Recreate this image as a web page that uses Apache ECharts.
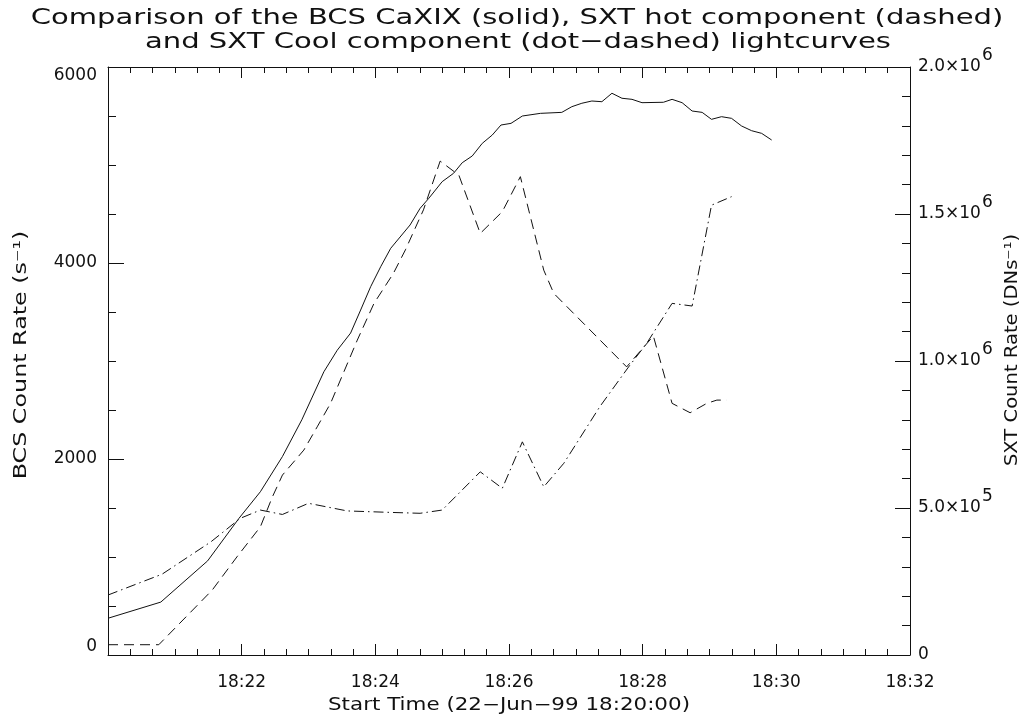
<!DOCTYPE html>
<html>
<head>
<meta charset="utf-8">
<script src="https://cdn.jsdelivr.net/npm/echarts@6/dist/echarts.min.js"></script>
<style>
  html, body { margin: 0; padding: 0; background: #fff; }
  #chart { width: 1029px; height: 719px; }
</style>
</head>
<body>
<div id="chart"></div>
<script>
// Time in minutes after 18:20:00 on 22-Jun-99
const bcsTime = [0.00, 0.79, 1.49, 1.96, 2.28, 2.61, 2.90, 3.23, 3.43, 3.63, 3.78, 3.93, 4.08, 4.23,
  4.52, 4.67, 4.80, 5.00, 5.17, 5.30, 5.45, 5.60, 5.75, 5.88, 6.03, 6.20, 6.47, 6.79, 6.94, 7.09,
  7.24, 7.39, 7.54, 7.69, 7.84, 7.99, 8.31, 8.44, 8.59, 8.74, 8.89, 9.03, 9.18, 9.33, 9.48, 9.63,
  9.78, 9.93];
// BCS Ca XIX count rate (s^-1), left axis
const bcsRate = [375, 540, 960, 1395, 1666, 2025, 2400, 2890, 3110, 3285, 3520, 3758, 3962, 4150,
  4388, 4558, 4660, 4830, 4915, 5023, 5092, 5221, 5306, 5408, 5425, 5500, 5527, 5537, 5595, 5630,
  5653, 5646, 5732, 5681, 5670, 5636, 5640, 5670, 5636, 5551, 5537, 5466, 5493, 5476, 5398, 5350,
  5323, 5255];

// SXT hot component (DN s^-1), right axis
const hotTime = [0.00, 0.76, 1.56, 1.93, 2.28, 2.46, 2.61, 2.93, 3.13, 3.33, 3.73, 3.98, 4.27, 4.45,
  4.72, 4.97, 5.25, 5.57, 5.90, 6.17, 6.52, 6.67, 7.76, 8.16, 8.44, 8.71, 8.96, 9.11, 9.26];
const hotRate = [35000, 35000, 221000, 334000, 436000, 538000, 612000, 697000, 776000, 856000,
  1071000, 1196000, 1298000, 1378000, 1514000, 1680000, 1632000, 1434000, 1508000, 1627000,
  1309000, 1230000, 980000, 1085000, 856000, 824000, 856000, 867000, 867000];

// SXT cool component (DN s^-1), right axis
const coolTime = [0.00, 0.81, 1.54, 1.98, 2.28, 2.61, 3.00, 3.58, 4.23, 4.67, 5.00, 5.57, 5.90, 6.20,
  6.52, 6.82, 7.36, 7.79, 8.06, 8.44, 8.74, 9.03, 9.33];
const coolRate = [204000, 275000, 385000, 465000, 493000, 478000, 516000, 490000, 485000, 482000,
  493000, 623000, 567000, 725000, 572000, 652000, 845000, 980000, 1060000, 1196000, 1187000,
  1530000, 1559000];

// Axis tick labels
const timeTickLabels = ['', '18:22', '18:24', '18:26', '18:28', '18:30', '18:32'];
const bcsTickLabels = ['0', '2000', '4000', '6000'];
const sxtTickLabels = [['0', ''], ['5.0×10', '5'], ['1.0×10', '6'], ['1.5×10', '6'], ['2.0×10', '6']];

// Titles
const titleLines = [
  'Comparison of the BCS CaXIX (solid), SXT hot component (dashed)',
  'and SXT Cool component (dot\u2212dashed) lightcurves'
];
const xName = 'Start Time (22\u2212Jun\u221299 18:20:00)';
const leftName = 'BCS Count Rate (s\u207B\u00B9)';
const rightName = 'SXT Count Rate (DNs\u207B\u00B9)';

const zip = (xs, ys) => xs.map((x, i) => [x, ys[i]]);

const FONT = 'DejaVu Sans';
const INK = '#111';

const chart = echarts.init(document.getElementById('chart'), null, { renderer: 'canvas' });

const tickBase = { show: true, inside: true, lineStyle: { color: INK, width: 1 } };
const axisLineBase = { show: true, onZero: false, lineStyle: { color: INK, width: 1 } };

// Wide, plotter-style lettering: text stretched along its own baseline
function label(text, x, y, size, stretch, rotation) {
  return {
    type: 'text', x: x, y: y, rotation: rotation || 0, scaleX: stretch, scaleY: 1,
    silent: true,
    style: {
      text: text, x: 0, y: 0, align: 'center', verticalAlign: 'middle',
      fontFamily: FONT, fontSize: size, fill: INK
    }
  };
}

chart.setOption({
  backgroundColor: '#fff',
  animation: false,
  graphic: [
    label(titleLines[0], 517, 18, 22, 1.32),
    label(titleLines[1], 518, 42, 22, 1.32),
    label(xName, 509, 706, 17, 1.26),
    label(leftName, 22, 355, 17, 1.4, Math.PI / 2),
    label(rightName, 1013, 350, 17, 1.15, Math.PI / 2)
  ],
  grid: { left: 108, right: 119, top: 67, bottom: 64 },
  xAxis: [
    {
      type: 'value', min: 0, max: 12, interval: 2, position: 'bottom',
      axisLine: axisLineBase,
      axisTick: Object.assign({}, tickBase, { length: 11 }),
      minorTick: { show: true, splitNumber: 6, length: 6, lineStyle: { color: INK, width: 1 } },
      splitLine: { show: false },
      axisLabel: {
        fontFamily: FONT, fontSize: 17, color: INK, margin: 19,
        formatter: v => timeTickLabels[Math.round(v / 2)]
      }
    },
    {
      type: 'value', min: 0, max: 12, interval: 2, position: 'top',
      axisLine: axisLineBase,
      axisTick: Object.assign({}, tickBase, { length: 11 }),
      minorTick: { show: true, splitNumber: 6, length: 6, lineStyle: { color: INK, width: 1 } },
      splitLine: { show: false },
      axisLabel: { show: false }
    }
  ],
  yAxis: [
    {
      type: 'value', min: 0, max: 6000, interval: 2000, position: 'left',
      axisLine: axisLineBase,
      axisTick: Object.assign({}, tickBase, { length: 16 }),
      minorTick: { show: true, splitNumber: 4, length: 8, lineStyle: { color: INK, width: 1 } },
      splitLine: { show: false },
      axisLabel: {
        fontFamily: FONT, fontSize: 17, color: INK, margin: 11,
        verticalAlignMinLabel: 'bottom', verticalAlignMaxLabel: 'top',
        formatter: v => bcsTickLabels[Math.round(v / 2000)]
      }
    },
    {
      type: 'value', min: 0, max: 2000000, interval: 500000, position: 'right',
      axisLine: axisLineBase,
      axisTick: Object.assign({}, tickBase, { length: 15 }),
      minorTick: { show: true, splitNumber: 5, length: 8, lineStyle: { color: INK, width: 1 } },
      splitLine: { show: false },
      axisLabel: {
        margin: 8,
        formatter: v => {
          const t = sxtTickLabels[Math.round(v / 500000)];
          return t[1] ? '{b|' + t[0] + '}{s|' + t[1] + '}' : '{b|' + t[0] + '}';
        },
        rich: {
          b: { fontFamily: FONT, fontSize: 17, color: INK, lineHeight: 17, verticalAlign: 'bottom' },
          s: { fontFamily: FONT, fontSize: 17, color: INK, lineHeight: 17, verticalAlign: 'bottom', padding: [0, 0, 11, 1] }
        }
      }
    }
  ],
  series: [
    {
      name: 'BCS CaXIX', type: 'line', xAxisIndex: 0, yAxisIndex: 0,
      data: zip(bcsTime, bcsRate), showSymbol: false, symbol: 'none',
      lineStyle: { color: INK, width: 1, type: 'solid' }
    },
    {
      name: 'SXT hot', type: 'line', xAxisIndex: 0, yAxisIndex: 1,
      data: zip(hotTime, hotRate), showSymbol: false, symbol: 'none',
      lineStyle: { color: INK, width: 1, type: [10, 6] }
    },
    {
      name: 'SXT cool', type: 'line', xAxisIndex: 0, yAxisIndex: 1,
      data: zip(coolTime, coolRate), showSymbol: false, symbol: 'none',
      lineStyle: { color: INK, width: 1, type: [10, 4, 1.5, 4] }
    }
  ]
});
</script>
</body>
</html>
